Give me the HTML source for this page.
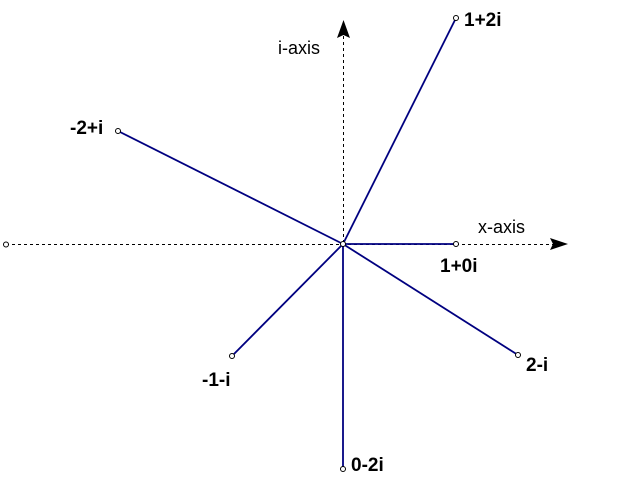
<!DOCTYPE html>
<html><head><style>body{margin:0;background:#fff}svg{display:block}</style></head><body>
<svg width="640" height="480" xmlns="http://www.w3.org/2000/svg">
<g stroke="#000" stroke-width="1" stroke-dasharray="3,3" fill="none">
<line x1="6" y1="244.5" x2="555" y2="244.5"/>
<line x1="343.5" y1="30" x2="343.5" y2="244"/>
</g>
<polygon points="568,244 550,238 553,244 550,250" fill="#000"/>
<polygon points="343.5,20 337,38 343.5,35 350,38" fill="#000"/>
<g stroke="#000080" stroke-width="1.8">
<line x1="343" y1="244" x2="456" y2="18"/>
<line x1="343" y1="244" x2="118" y2="131"/>
<line x1="343" y1="244" x2="456" y2="244"/>
<line x1="343" y1="244" x2="518" y2="355"/>
<line x1="343" y1="244" x2="232" y2="356"/>
<line x1="343" y1="244" x2="343" y2="469"/>
</g>
<g fill="#fff" stroke="#000" stroke-width="1">
<circle cx="456" cy="18" r="2.5"/><circle cx="118" cy="131" r="2.5"/>
<circle cx="456" cy="244" r="2.5"/><circle cx="518" cy="355" r="2.5"/>
<circle cx="232" cy="356" r="2.5"/><circle cx="343" cy="469" r="2.5"/>
<circle cx="6" cy="244.5" r="2.5"/><circle cx="343" cy="244" r="2.5"/>
</g>
<g font-family="Liberation Sans, sans-serif" font-size="18" fill="#000">
<text x="278" y="54">i-axis</text>
<text x="478" y="233">x-axis</text>
</g>
<g font-family="Liberation Sans, sans-serif" font-size="19" font-weight="bold" fill="#000">
<text x="464" y="26">1+2i</text>
<text x="70" y="134">-2+i</text>
<text x="440" y="272">1+0i</text>
<text x="526" y="371">2-i</text>
<text x="202" y="386">-1-i</text>
<text x="351" y="471">0-2i</text>
</g>
</svg>
</body></html>
